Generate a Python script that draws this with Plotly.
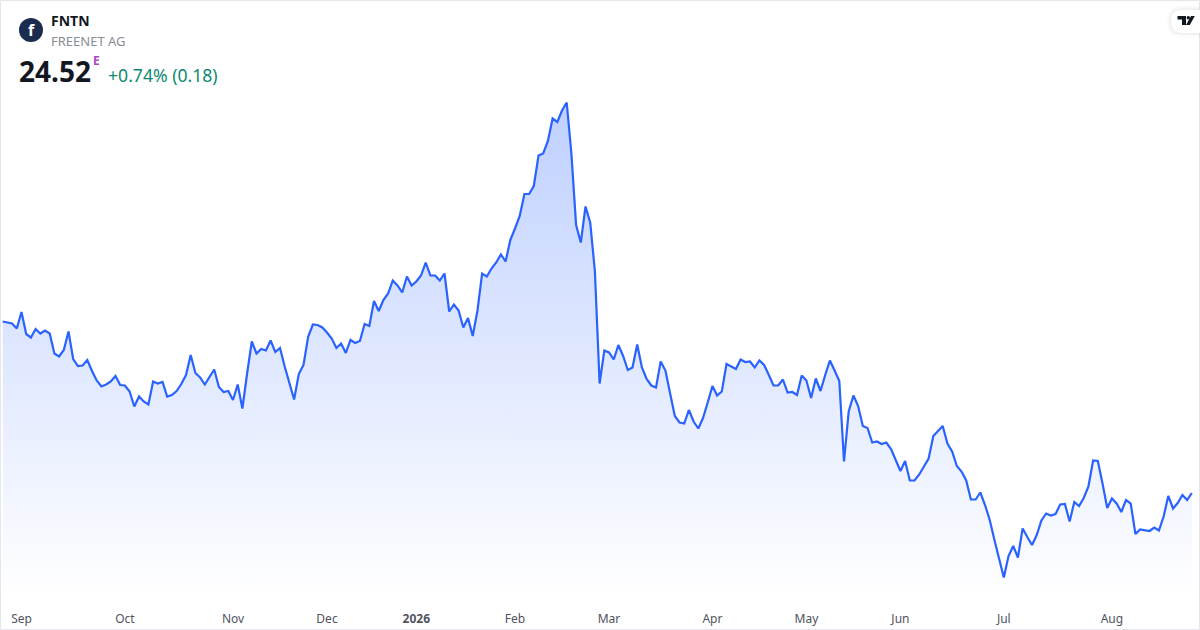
import plotly.graph_objects as go

prices = [
27.95,27.93,27.91,27.81,28.14,27.70,27.63,27.80,27.71,27.77,27.71,27.31,27.25,27.38,27.75,27.20,27.06,27.07,27.18,26.96,
26.77,26.65,26.69,26.75,26.86,26.68,26.67,26.55,26.25,26.45,26.35,26.29,26.75,26.71,26.74,26.45,26.48,26.56,26.70,26.88,
27.28,26.92,26.83,26.69,26.85,26.99,26.64,26.54,26.56,26.38,26.69,26.21,26.91,27.55,27.31,27.40,27.37,27.57,27.34,27.42,
27.05,26.71,26.39,26.90,27.08,27.65,27.89,27.88,27.83,27.73,27.61,27.42,27.51,27.32,27.58,27.52,27.56,27.90,27.86,28.36,
28.16,28.38,28.51,28.77,28.67,28.53,28.85,28.67,28.75,28.87,29.13,28.87,28.87,28.77,28.91,28.15,28.29,28.17,27.83,28.02,
27.66,28.16,28.91,28.85,29.01,29.13,29.29,29.15,29.58,29.81,30.06,30.50,30.50,30.66,31.27,31.31,31.56,32.01,31.94,32.17,
32.33,31.31,29.88,29.53,30.25,29.93,28.95,26.71,27.37,27.33,27.19,27.48,27.26,26.98,27.03,27.49,27.03,26.80,26.67,26.63,
27.15,26.97,26.51,26.06,25.93,25.91,26.18,25.95,25.81,26.02,26.33,26.66,26.47,26.55,27.10,27.05,27.00,27.19,27.14,27.15,
27.03,27.17,27.08,26.88,26.67,26.67,26.79,26.53,26.54,26.48,26.87,26.77,26.42,26.81,26.56,26.88,27.17,26.97,26.76,25.15,
26.15,26.47,26.26,25.86,25.82,25.53,25.55,25.50,25.53,25.40,25.16,24.96,25.16,24.77,24.77,24.89,25.05,25.21,25.66,25.76,
25.86,25.51,25.35,25.06,24.95,24.77,24.39,24.39,24.53,24.28,23.98,23.58,23.18,22.83,23.26,23.46,23.23,23.81,23.64,23.48,
23.68,23.97,24.11,24.07,24.10,24.29,24.30,23.95,24.34,24.26,24.42,24.65,25.17,25.16,24.71,24.22,24.41,24.31,24.14,24.38,
24.31,23.70,23.79,23.77,23.76,23.83,23.77,24.05,24.46,24.21,24.32,24.48,24.38,24.52,
]
sessions = list(range(len(prices)))
tick_sessions = [4, 26, 49, 69, 88, 109, 129, 151, 171, 191, 213, 236]
tick_labels = ["Sep", "Oct", "Nov", "Dec", "<b>2026</b>", "Feb", "Mar", "Apr", "May", "Jun", "Jul", "Aug"]

W, H = 1200, 630
FONT = "Noto Sans"
LINE = "#2962ff"


def X(p):
    return p / W


def Y(p):
    return 1 - p / H


def label(x, y, text, size, color, anchor="left", spacing=None):
    font = dict(family=FONT, size=size, color=color)
    if spacing is not None:
        font["lineposition"] = "none"
    return dict(xref="paper", yref="paper", x=X(x), y=Y(y), text=text, showarrow=False,
                xanchor=anchor, yanchor="middle", align="left", borderpad=0, xshift=-1 if anchor == "left" else 0,
                font=font)


def poly(points, color):
    d = "M" + " L".join(f"{X(a):.5f},{Y(b):.5f}" for a, b in points) + " Z"
    return dict(type="path", xref="paper", yref="paper", path=d,
                fillcolor=color, line=dict(width=0), layer="above")


shapes = [
    dict(type="rect", xref="paper", yref="paper", x0=X(0.5), x1=X(1199.5), y0=Y(629.5), y1=Y(0.5),
         line=dict(color="#e4e6ec", width=1), fillcolor="rgba(0,0,0,0)", layer="above"),
    dict(type="circle", xref="paper", yref="paper", x0=X(19), x1=X(43), y0=Y(42), y1=Y(18),
         fillcolor="#1b2c4e", line=dict(width=0), layer="above"),
]
# tradingview badge
for grow, col in [(5, "rgba(0,0,0,0.006)"), (4, "rgba(0,0,0,0.008)"), (3, "rgba(0,0,0,0.01)"),
                  (2, "rgba(0,0,0,0.014)"), (1, "rgba(0,0,0,0.018)"), (0, "#ffffff")]:
    shapes.append(dict(type="path", xref="paper", yref="paper", layer="above", fillcolor=col, line=dict(width=0),
                       path=(f"M{X(1200)},{Y(10 - grow)} L{X(1182)},{Y(10 - grow)} "
                             f"Q{X(1171 - grow)},{Y(10 - grow)} {X(1171 - grow)},{Y(21)} "
                             f"Q{X(1171 - grow)},{Y(33 + grow)} {X(1182)},{Y(33 + grow)} "
                             f"L{X(1200)},{Y(33 + grow)} Z")))
shapes += [
    poly([(1177.5, 16), (1186, 16), (1186, 25), (1182, 25), (1182, 19.5), (1177.5, 19.5)], "#131722"),
    poly([(1191, 16), (1194.8, 16), (1189.8, 25), (1186, 25)], "#131722"),
    dict(type="circle", xref="paper", yref="paper", x0=X(1186.6), x1=X(1190), y0=Y(19.4), y1=Y(16),
         fillcolor="#131722", line=dict(width=0), layer="above"),
]

annotations = [
    label(31, 30, "<b>f</b>", 16, "#ffffff", "center"),
    label(51, 21, "<b>FNTN</b>", 14, "#131722"),
    label(51, 41, "FREENET AG", 13, "#8a8d96"),
    label(19, 71, "<b>24.52</b>", 28, "#131722"),
    label(93, 61, "<b>E</b>", 12, "#ab47bc"),
    label(108, 74.5, "+0.74% (0.18)", 17.6, "#0b8a72"),
]

fig = go.Figure(go.Scatter(
    x=sessions, y=prices, mode="lines", line=dict(color=LINE, width=2.2), fill="tozeroy",
    fillgradient=dict(type="vertical", start=32.33, stop=22.4,
                      colorscale=[[0, "rgba(41,98,255,0.30)"], [1, "rgba(41,98,255,0)"]]),
    hoverinfo="skip", showlegend=False,
))
fig.update_layout(
    width=W, height=H, autosize=False, margin=dict(l=0, r=0, t=0, b=0),
    paper_bgcolor="#ffffff", plot_bgcolor="#ffffff", showlegend=False,
    shapes=shapes, annotations=annotations,
    xaxis=dict(range=[-0.574, 254.74], tickmode="array", tickvals=tick_sessions, ticktext=tick_labels,
               showgrid=False, zeroline=False, showline=False, ticks="outside", ticklen=8,
               tickcolor="rgba(0,0,0,0)", tickfont=dict(family=FONT, size=12, color="#50535e")),
    yaxis=dict(domain=[30 / H, 1], range=[22.38, 34.38], visible=False, showgrid=False, zeroline=False),
)
fig.write_html("out.html", config=dict(displayModeBar=False),
               post_script="document.body.style.margin='0';document.body.style.overflow='hidden';")
